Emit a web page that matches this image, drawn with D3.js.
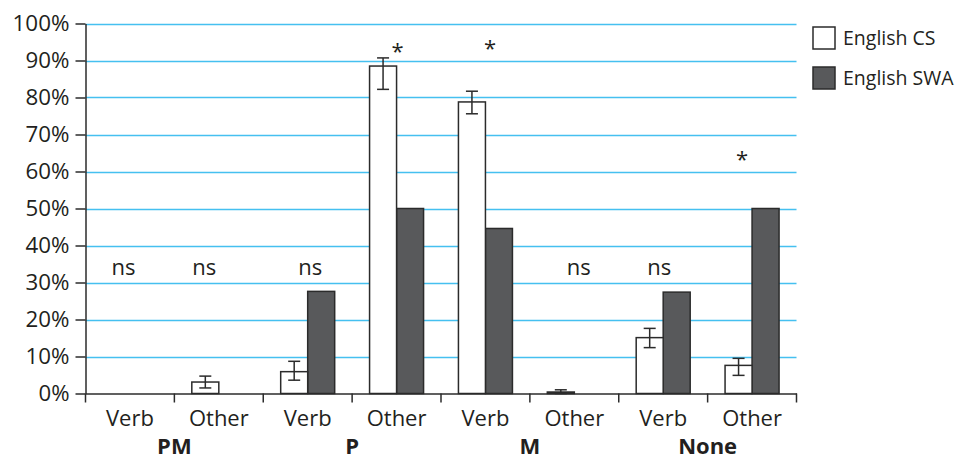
<!DOCTYPE html>
<html><head><meta charset="utf-8">
<script src="https://cdn.jsdelivr.net/npm/d3@7"></script>
<style>
html,body{margin:0;padding:0;background:#fff;}
svg text{font-family:"Open Sans",sans-serif;fill:#231f20;}
</style></head>
<body><svg id="c" width="959" height="461"></svg>
<script>
// ---- data ----
const groups = ["PM", "P", "M", "None"];
const categories = ["Verb", "Other", "Verb", "Other", "Verb", "Other", "Verb", "Other"];
const seriesNames = ["English CS", "English SWA"];
const csValues  = [0, 3.1, 5.9, 88.5, 78.8, 0.4, 15.1, 7.6];
const csErrLow  = [0, 1.5, 3.6, 82.2, 75.6, 0, 12.4, 4.9];
const csErrHigh = [0, 4.7, 8.7, 90.7, 81.7, 1.0, 17.6, 9.5];
const swaValues = [0, 0, 27.6, 50, 44.6, 0, 27.4, 50];
const yTicks = [0, 10, 20, 30, 40, 50, 60, 70, 80, 90, 100];
const annLabels = ["ns", "ns", "ns", "*", "*", "ns", "ns", "*"];
const annHeights = [32, 32, 32, 93.7, 94.4, 32, 32, 64.4];
const annNudge = [-6.5, -14.5, 2.5, 1, 4.5, 4.5, -4, -10];

// ---- layout ----
const FONT = "Open Sans";
const FS = 22;
const svg = d3.select("#c");
const x0 = 85.5, x1 = 796.5;
const y = d3.scaleLinear().domain([0, 100]).range([393.5, 23.5]);
const x = d3.scaleBand().domain(d3.range(categories.length)).range([x0, x1]).padding(0);
const bw = x.bandwidth();
const barW = 27;
const grid = "#45c0f0", dark = "#58595b", stroke = "#2b2b2b";

// gridlines
svg.append("g").selectAll("line").data(yTicks.filter(d => d > 0)).join("line")
  .attr("x1", x0).attr("x2", x1)
  .attr("y1", d => Math.round(y(d)) + 0.5).attr("y2", d => Math.round(y(d)) + 0.5)
  .attr("stroke", grid).attr("stroke-width", 1.3);

// y axis
const yAxis = d3.axisLeft(y).tickValues(yTicks).tickFormat(d => d + "%").tickSize(10).tickSizeOuter(0).tickPadding(6);
const gy = svg.append("g").attr("transform", `translate(${x0},0)`).call(yAxis);
gy.select(".domain").attr("stroke", stroke).attr("stroke-width", 1.5);
gy.selectAll(".tick line").attr("stroke", stroke).attr("stroke-width", 1.5);
gy.selectAll(".tick text").attr("font-size", FS).attr("font-family", FONT).attr("fill", "#231f20")
  .attr("textLength", 57).attr("lengthAdjust", "spacingAndGlyphs");
gy.selectAll(".tick text").filter(d => d < 100).attr("textLength", 44);
gy.selectAll(".tick text").filter(d => d === 0).attr("textLength", 31);

// bars
const cx = i => x(i) + bw / 2;
svg.append("g").selectAll("rect").data(swaValues).join("rect")
  .attr("x", (d, i) => cx(i)).attr("width", barW)
  .attr("y", d => y(d)).attr("height", d => y(0) - y(d))
  .attr("fill", dark).attr("stroke", stroke).attr("stroke-width", d => d > 0 ? 1.5 : 0);
svg.append("g").selectAll("rect").data(csValues).join("rect")
  .attr("x", (d, i) => cx(i) - barW).attr("width", barW)
  .attr("y", d => y(d)).attr("height", d => y(0) - y(d))
  .attr("fill", "#fff").attr("stroke", stroke).attr("stroke-width", d => d > 0 ? 1.5 : 0);

// error bars
const eg = svg.append("g").attr("stroke", stroke).attr("stroke-width", 1.5);
csValues.forEach((v, i) => {
  if (csErrHigh[i] <= 0) return;
  const ex = cx(i) - barW / 2;
  eg.append("line").attr("x1", ex).attr("x2", ex).attr("y1", y(csErrHigh[i])).attr("y2", y(csErrLow[i]));
  eg.append("line").attr("x1", ex - 6).attr("x2", ex + 6).attr("y1", y(csErrHigh[i])).attr("y2", y(csErrHigh[i]));
  eg.append("line").attr("x1", ex - 6).attr("x2", ex + 6).attr("y1", y(csErrLow[i])).attr("y2", y(csErrLow[i]));
});

// x axis
const xAxis = d3.axisBottom(x).tickFormat(i => categories[i]).tickSize(0).tickPadding(17);
const gx = svg.append("g").attr("transform", `translate(0,${y(0)})`).call(xAxis);
gx.select(".domain").attr("stroke", stroke).attr("stroke-width", 1.5);
gx.selectAll(".tick text").attr("font-size", FS).attr("font-family", FONT).attr("fill", "#231f20");
// boundary ticks
svg.append("g").selectAll("line").data(d3.range(categories.length + 1)).join("line")
  .attr("x1", i => i < categories.length ? x(i) : x1).attr("x2", i => i < categories.length ? x(i) : x1)
  .attr("y1", y(0)).attr("y2", y(0) + 9)
  .attr("stroke", stroke).attr("stroke-width", 1.5);

// group labels
svg.append("g").selectAll("text").data(groups).join("text")
  .attr("x", (d, g) => x(g * 2 + 1))
  .attr("y", 454).attr("text-anchor", "middle")
  .attr("font-size", FS).attr("font-weight", "bold").text(d => d);

// annotations
svg.append("g").selectAll("text").data(annLabels).join("text")
  .attr("x", (d, i) => cx(i) + annNudge[i])
  .attr("y", (d, i) => d === "*" ? y(annHeights[i]) + 12 : y(annHeights[i]))
  .attr("text-anchor", "middle").attr("font-size", FS).text(d => d);

// legend
const leg = svg.append("g").attr("transform", "translate(813,27)");
seriesNames.forEach((n, i) => {
  leg.append("rect").attr("x", 0).attr("y", i * 40).attr("width", 22).attr("height", 22)
    .attr("fill", i === 0 ? "#fff" : dark).attr("stroke", stroke).attr("stroke-width", 1.5);
  leg.append("text").attr("x", 30).attr("y", i * 40 + 18).attr("font-size", 19.5).text(n);
});
</script></body></html>
